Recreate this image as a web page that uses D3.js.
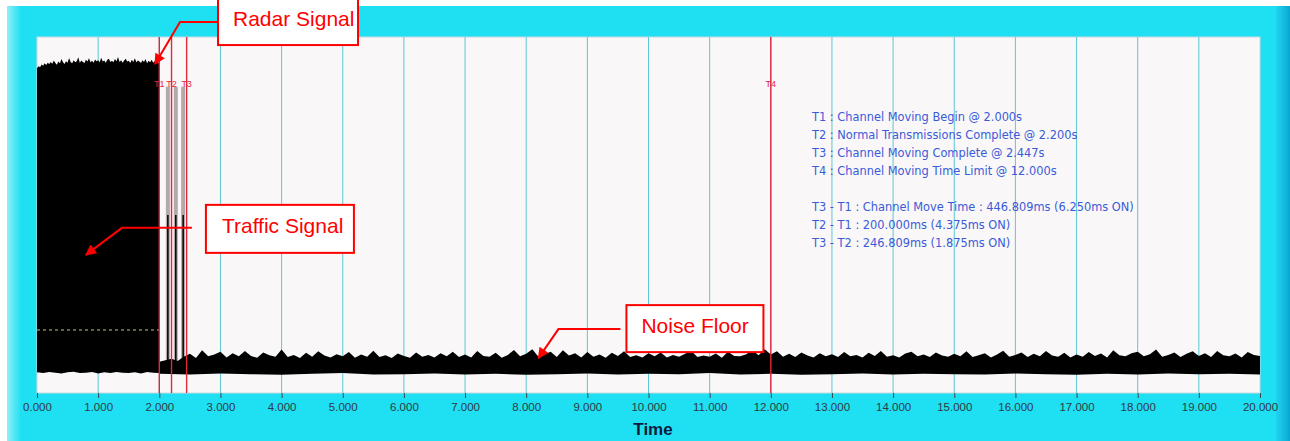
<!DOCTYPE html>
<html><head><meta charset="utf-8">
<script src="https://cdn.jsdelivr.net/npm/d3@7"></script>
<style>html,body{margin:0;padding:0;background:#fff;overflow:hidden}</style>
</head><body><svg id="c" width="1290" height="441"></svg>
<script>
// ---------- data ----------
const tickValues = [0,1,2,3,4,5,6,7,8,9,10,11,12,13,14,15,16,17,18,19,20];
const markerNames = ["T1","T2","T3","T4"];
const markerTimes = [2.000, 2.200, 2.447, 12.000];
// radar burst envelope (0 .. 2.0 s), top sampled every 0.025 s, bottom every 0.1 s
const radarTopStep = 0.025;
const radarTop = [91.2,91.8,91.5,92.3,91.9,92.6,92.1,92.8,92.4,93.0,
  92.5,93.4,92.7,92.2,93.1,92.6,93.8,92.9,92.4,93.2,
  92.8,94.1,93.0,92.6,93.5,92.9,93.2,94.3,92.8,93.4,
  93.0,92.7,93.6,93.1,94.0,92.9,93.3,92.8,93.7,93.2,
  93.5,92.9,94.2,93.1,93.4,92.8,93.6,93.9,93.0,93.3,
  92.9,93.8,93.2,94.4,93.0,93.5,92.8,93.4,93.9,93.1,
  93.3,92.7,93.6,93.0,94.0,92.9,93.4,93.1,92.7,93.5,
  93.0,93.8,92.6,93.3,92.9,93.6,92.8,93.2,94.1,93.0,92.5];
const radarBottomStep = 0.1;
const radarBottom = [5.8,5.6,5.9,5.7,5.5,5.8,6.0,5.6,5.7,5.9,5.5,5.8,5.6,5.9,5.7,5.6,5.8,5.5,5.9,5.7,5.6];
// noise floor envelope (2.0 .. 20.0 s)
const noiseStart = 2.0;
const noiseTopStep = 0.1;
const noiseTop = [8.8,9.2,9.6,9.0,10.2,11.0,9.8,12.0,10.3,10.8,
  11.6,10.0,11.2,10.3,11.8,10.4,9.9,11.4,10.6,10.2,
  12.2,10.1,10.7,9.8,11.3,10.2,11.7,10.5,10.0,10.9,
  10.3,11.5,9.9,10.8,10.2,11.9,10.1,10.6,9.8,11.1,
  10.4,9.9,11.4,10.2,10.7,10.0,11.2,10.3,11.6,10.1,
  10.8,10.0,11.8,10.4,10.2,11.3,9.9,10.7,12.1,10.3,
  11.0,12.3,10.2,10.9,11.6,10.1,12.0,10.5,11.2,10.0,
  11.5,10.2,10.8,9.9,11.3,10.4,11.7,10.1,10.6,10.0,
  11.2,10.3,11.4,10.0,10.7,10.2,11.0,11.8,10.1,10.5,
  10.2,11.1,9.9,11.6,10.4,10.3,10.9,12.0,10.6,12.3,
  10.8,11.7,10.2,11.0,10.1,11.4,10.5,10.0,11.2,10.3,
  10.9,10.1,11.5,10.3,10.7,10.0,11.3,10.4,11.8,10.2,
  10.6,10.0,11.1,11.6,10.3,10.8,10.1,11.4,10.5,10.2,
  11.0,10.3,11.7,10.1,10.6,11.2,10.0,10.8,11.9,10.2,
  10.7,11.4,10.1,11.0,10.3,11.8,10.5,10.2,11.3,10.0,
  10.8,10.2,11.5,10.4,11.1,10.0,12.0,10.6,10.3,11.2,
  11.6,10.3,10.9,12.2,10.2,10.7,11.4,10.1,11.0,11.7,
  10.4,11.2,10.1,11.8,10.6,10.3,11.1,10.0,11.5,10.7,10.4];
const noiseBottomStep = 0.5;
const noiseBottom = [5.4,5.2,5.5,5.3,5.1,5.4,5.6,5.2,5.3,5.5,5.2,5.4,5.1,5.3,5.5,5.2,5.4,5.3,5.6,
  5.2,5.4,5.1,5.3,5.5,5.2,5.4,5.3,5.2,5.5,5.3,5.1,5.4,5.2,5.5,5.3,5.4,5.2];
// traffic pulses between T1 and T3
const trafficTimes = [2.14, 2.27, 2.39];
const trafficPeak = [86, 86, 86];
const trafficCore = [50, 50, 50];
// threshold level
const thresholdLevel = 17.7;
const thresholdEnd = 2.05;
// info text
const infoLines = [
  "T1 : Channel Moving Begin @ 2.000s",
  "T2 : Normal Transmissions Complete @ 2.200s",
  "T3 : Channel Moving Complete @ 2.447s",
  "T4 : Channel Moving Time Limit @ 12.000s",
  "",
  "T3 - T1 : Channel Move Time : 446.809ms (6.250ms ON)",
  "T2 - T1 : 200.000ms (4.375ms ON)",
  "T3 - T2 : 246.809ms (1.875ms ON)"
];
const axisTitle = "Time";
// callouts: tip in data coords
const calloutLabels = ["Radar Signal", "Traffic Signal", "Noise Floor"];
const calloutTipT = [1.93, 0.8, 8.2];
const calloutTipV = [92.4, 38.8, 9.8];

// ---------- layout ----------
const svg = d3.select("#c");
const X0 = 37, X1 = 1260, Y0 = 37, Y1 = 393;
const x = d3.scaleLinear().domain([0,20]).range([X0,X1]);
const y = d3.scaleLinear().domain([0,100]).range([Y1,Y0]);

const defs = svg.append("defs");
const lg = defs.append("linearGradient").attr("id","lft").attr("x1","0").attr("x2","1");
lg.append("stop").attr("offset","0").attr("stop-color","#8ff0f8");
lg.append("stop").attr("offset","1").attr("stop-color","#1fdff2");
const rg = defs.append("linearGradient").attr("id","rgt").attr("x1","0").attr("x2","1");
rg.append("stop").attr("offset","0").attr("stop-color","#1fd6f0");
rg.append("stop").attr("offset","1").attr("stop-color","#0aa6d2");
defs.append("marker").attr("id","ah").attr("viewBox","0 0 10 10").attr("refX",9).attr("refY",5)
  .attr("markerWidth",13).attr("markerHeight",11).attr("markerUnits","userSpaceOnUse").attr("orient","auto")
  .append("path").attr("d","M0,0L10,5L0,10z").attr("fill","#ff0000");

// frame
svg.append("rect").attr("x",7).attr("y",6).attr("width",1283).attr("height",435).attr("fill","#1fdff2");
svg.append("rect").attr("x",7).attr("y",6).attr("width",14).attr("height",435).attr("fill","url(#lft)");
svg.append("rect").attr("x",1276).attr("y",6).attr("width",14).attr("height",435).attr("fill","url(#rgt)");

// plot area
svg.append("rect").attr("x",X0).attr("y",Y0).attr("width",X1-X0).attr("height",Y1-Y0)
  .attr("fill","#f9f7f8").attr("stroke","#c9d9dd").attr("stroke-width",1);

// grid
svg.append("g").selectAll("line").data(tickValues.slice(1,-1)).join("line")
  .attr("x1",d=>x(d)).attr("x2",d=>x(d)).attr("y1",Y0).attr("y2",Y1)
  .attr("stroke","#5cc9d3").attr("stroke-width",1);

// envelopes
const line = d3.line();
function envelope(top, topStep, bottom, botStep, start){
  const pts = top.map((v,i)=>[x(start+i*topStep), y(v)]);
  const bp = bottom.map((v,i)=>[x(start+i*botStep), y(v)]).reverse();
  return line(pts.concat(bp)) + "Z";
}
svg.append("path").attr("d", envelope(radarTop, radarTopStep, radarBottom, radarBottomStep, 0)).attr("fill","#000");

// traffic pulses
const tg = svg.append("g");
tg.selectAll("line.pk").data(trafficTimes).join("line").attr("class","pk")
  .attr("x1",d=>x(d)).attr("x2",d=>x(d)).attr("y1",(d,i)=>y(trafficPeak[i])).attr("y2",y(6))
  .attr("stroke","#b3a9ad").attr("stroke-width",4);
tg.selectAll("line.cr").data(trafficTimes).join("line").attr("class","cr")
  .attr("x1",d=>x(d)).attr("x2",d=>x(d)).attr("y1",(d,i)=>y(trafficCore[i])).attr("y2",y(6))
  .attr("stroke","#000").attr("stroke-width",1.5);

// noise
svg.append("path").attr("d", envelope(noiseTop, noiseTopStep, noiseBottom, noiseBottomStep, noiseStart)).attr("fill","#000");

// threshold
svg.append("line").attr("x1",x(0)).attr("x2",x(thresholdEnd)).attr("y1",y(thresholdLevel)).attr("y2",y(thresholdLevel))
  .attr("stroke","#c9c27a").attr("stroke-width",1).attr("stroke-dasharray","3,3");

// markers
const mg = svg.append("g");
mg.selectAll("line").data(markerTimes).join("line")
  .attr("x1",d=>x(d)).attr("x2",d=>x(d)).attr("y1",Y0).attr("y2",Y1)
  .attr("stroke","#e3283a").attr("stroke-width",1.4);
mg.selectAll("text").data(markerTimes).join("text")
  .attr("x",d=>x(d)).attr("y",87).attr("text-anchor","middle")
  .attr("font-family","Liberation Sans, Arial, sans-serif").attr("font-size",9).attr("fill","#e3283a")
  .text((d,i)=>markerNames[i]);

// info text
svg.append("g").selectAll("text").data(infoLines).join("text")
  .attr("x",812).attr("y",(d,i)=>121+i*18)
  .attr("font-family","DejaVu Sans, sans-serif").attr("font-size",11.4).attr("fill","#3a5bd9")
  .text(d=>d);

// axis
const ax = svg.append("g").attr("transform",`translate(0,${Y1})`)
  .call(d3.axisBottom(x).tickValues(tickValues).tickFormat(d3.format(".3f")).tickSize(5).tickPadding(5));
ax.select(".domain").remove();
ax.selectAll("line").attr("stroke","#3a4650");
ax.selectAll("text").attr("font-family","Liberation Sans, Arial, sans-serif").attr("font-size",11.5).attr("fill","#2e3a44");
svg.append("text").attr("x",653).attr("y",435).attr("text-anchor","middle")
  .attr("font-family","Liberation Sans, Arial, sans-serif").attr("font-weight","bold").attr("font-size",17)
  .attr("fill","#0b1b40").text(axisTitle);

// callouts
const cfg = [
  {elb:[25,-42], st:[63,-42], box:[63,-80,140,61], tx:[78,-38]},
  {elb:[36,-27], st:[106,-27], box:[120,-50,148,48], tx:[136,-22]},
  {elb:[20,-29], st:[82,-29], box:[88,-53,137,47], tx:[103,-25]}
];
const cg = svg.append("g");
calloutLabels.forEach((lab,i)=>{
  const tx = x(calloutTipT[i]), ty = y(calloutTipV[i]), c = cfg[i];
  cg.append("path").attr("d", line([[tx+c.st[0],ty+c.st[1]],[tx+c.elb[0],ty+c.elb[1]],[tx,ty]]))
    .attr("fill","none").attr("stroke","#ff0000").attr("stroke-width",2).attr("marker-end","url(#ah)");
  cg.append("rect").attr("x",tx+c.box[0]).attr("y",ty+c.box[1]).attr("width",c.box[2]).attr("height",c.box[3])
    .attr("fill","#fff").attr("stroke","#ff0000").attr("stroke-width",2);
  cg.append("text").attr("x",tx+c.tx[0]).attr("y",ty+c.tx[1])
    .attr("font-family","Liberation Sans, Arial, sans-serif").attr("font-size",21).attr("fill","#ff0000").text(lab);
});
</script></body></html>
